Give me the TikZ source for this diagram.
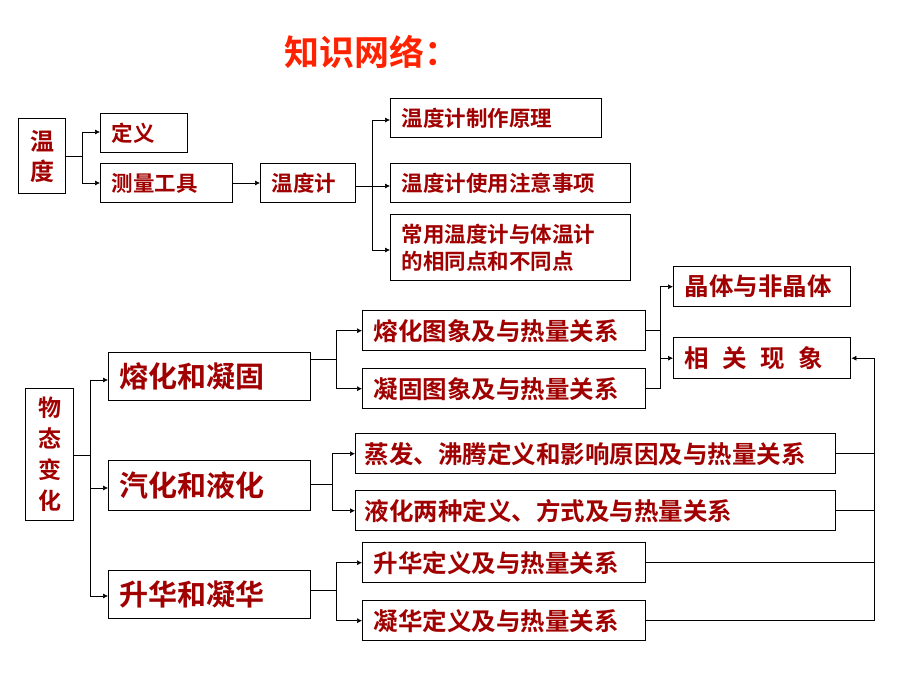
\documentclass[tikz,border=0pt]{standalone}
\usepackage{fontspec}
\newfontfamily\cjk{Noto Sans CJK SC}[BoldFont={Noto Sans CJK SC Bold}]
\usetikzlibrary{arrows.meta}
\definecolor{tx}{HTML}{A00000}
\definecolor{ttl}{HTML}{FF2200}
\begin{document}
\begin{tikzpicture}[x=1pt,y=-1pt,
 bx/.style={draw,line width=1.4pt,inner sep=0pt,text=tx,font=\cjk},
 ln/.style={line width=0.6pt},
 ar/.style={ln,-{Latex[length=5pt,width=5pt]}}]
\useasboundingbox (0,0) rectangle (920,690);
\newcommand\bxx[5]{\node[bx,minimum width=#3-#1,minimum height=#4-#2,anchor=north west] (#5) at (#1,#2) {};}
\tikzset{s/.style={text=tx,font=\cjk\bfseries\fontsize{21.5}{25}\selectfont,anchor=west}}
% top part
\bxx{18}{118}{65}{193}{wd}
\node[text=tx,font=\cjk\bfseries\fontsize{24}{30}\selectfont,align=center] at (wd) {温\\度};
\bxx{100}{113}{187}{152}{dy}
\node[s] at ([xshift=8]dy.west) {定义};
\bxx{100}{163}{232}{202}{clgj}
\node[s] at ([xshift=8]clgj.west) {测量工具};
\bxx{260}{163}{355}{202}{wdj}
\node[s] at ([xshift=8]wdj.west) {温度计};
\bxx{390}{98}{601}{137}{zz}
\node[s] at ([xshift=8]zz.west) {温度计制作原理};
\bxx{390}{163}{630}{202}{sy}
\node[s] at ([xshift=8]sy.west) {温度计使用注意事项};
\bxx{390}{214}{630}{280}{cy}
\node[s,align=left,font=\cjk\bfseries\fontsize{21.5}{27}\selectfont] at ([xshift=8]cy.west) {常用温度计与体温计\\的相同点和不同点};
\coordinate (j1) at (82,156);
\draw[ln] (wd.east|-j1) -- (j1);
\draw[ar] (j1) |- (dy.west|-0,132);
\draw[ar] (j1) |- (clgj.west|-0,183);
\draw[ar] (clgj.east|-0,183) -- (wdj.west|-0,183);
\coordinate (j2) at (372,186);
\draw[ln] (wdj.east|-j2) -- (j2);
\draw[ar] (j2) |- (zz.west|-0,120);
\draw[ar] (j2) -- (sy.west|-j2);
\draw[ar] (j2) |- (cy.west|-0,250);
% title
\node[text=ttl,font=\cjk\bfseries\fontsize{35}{40}\selectfont] (title) at (372,52) {知识网络：};
% lower part
\bxx{25}{388}{73}{520}{wt}
\node[text=tx,font=\cjk\bfseries\fontsize{23}{31}\selectfont,align=center] at (wt) {物\\态\\变\\化};
\tikzset{L/.style={text=tx,font=\cjk\bfseries\fontsize{29}{32}\selectfont,anchor=west}}
\bxx{108}{352}{310}{400}{rh}
\node[L] at ([xshift=8]rh.west) {熔化和凝固};
\bxx{108}{460}{310}{510}{qh}
\node[L] at ([xshift=8]qh.west) {汽化和液化};
\bxx{108}{570}{310}{618}{sh}
\node[L] at ([xshift=8]sh.west) {升华和凝华};
\tikzset{m/.style={text=tx,font=\cjk\bfseries\fontsize{24.5}{28}\selectfont,anchor=west}}
\bxx{362}{310}{645}{350}{a1}\node[m] at ([xshift=8]a1.west) {熔化图象及与热量关系};
\bxx{362}{368}{645}{408}{a2}\node[m] at ([xshift=8]a2.west) {凝固图象及与热量关系};
\bxx{673}{266}{850}{306}{jt}\node[m] at ([xshift=8]jt.west) {晶体与非晶体};
\bxx{673}{337}{850}{378}{xg}\node[m] at ([xshift=8]xg.west) {相\hspace{0.55em}关\hspace{0.55em}现\hspace{0.55em}象};
\bxx{355}{433}{835}{473}{b1}\node[m] at ([xshift=6]b1.west) {蒸发、沸腾定义和影响原因及与热量关系};
\bxx{355}{490}{835}{530}{b2}\node[m] at ([xshift=6]b2.west) {液化两种定义、方式及与热量关系};
\bxx{362}{542}{645}{582}{c1}\node[m] at ([xshift=8]c1.west) {升华定义及与热量关系};
\bxx{362}{600}{645}{640}{c2}\node[m] at ([xshift=8]c2.west) {凝华定义及与热量关系};
% connectors
\coordinate (k0) at (90,455);
\draw[ln] (wt.east|-k0) -- (k0);
\draw[ar] (k0) |- (rh.west|-0,380);
\draw[ar] (k0) |- (qh.west|-0,488);
\draw[ar] (k0) |- (sh.west|-0,596);
\coordinate (k1) at (336,359);
\draw[ln] (rh.east|-k1) -- (k1);
\draw[ar] (k1) |- (a1.west);
\draw[ar] (k1) |- (a2.west);
\coordinate (k2) at (332,484);
\draw[ln] (qh.east|-k2) -- (k2);
\draw[ar] (k2) |- (b1.west);
\draw[ar] (k2) |- (b2.west);
\coordinate (k3) at (336,590);
\draw[ln] (sh.east|-k3) -- (k3);
\draw[ar] (k3) |- (c1.west);
\draw[ar] (k3) |- (c2.west);
\coordinate (k4) at (660,330);
\draw[ln] (a1.east|-k4) -- (k4);
\draw[ln] (a2.east) -| (k4);
\draw[ar] (k4) |- (jt.west);
\draw[ar] (k4) |- (xg.west);
\coordinate (k5) at (874,620);
\draw[ln] (b1.east) -- (b1.east-|k5);
\draw[ln] (b2.east) -- (b2.east-|k5);
\draw[ln] (c1.east) -- (c1.east-|k5);
\draw[ln] (c2.east) -| (k5);
\draw[ar] (k5) |- (xg.east);
\end{tikzpicture}
\end{document}
